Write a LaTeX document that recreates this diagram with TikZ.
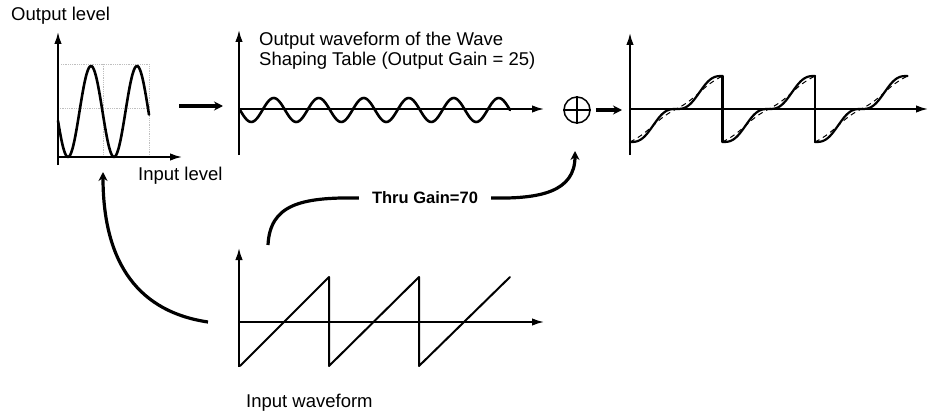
\documentclass[tikz,border=0pt]{standalone}
\usepackage{fontspec}
\setmainfont{Liberation Sans}
\usetikzlibrary{positioning,arrows.meta}

\begin{document}
\begin{tikzpicture}[
  x=1pt, y=-1pt,
  every node/.style={font=\fontsize{18.5}{20}\selectfont, inner sep=0pt},
  axis/.style={line width=1.7pt, -{Latex[length=12pt,width=7.5pt]}},
  wave/.style={line width=2.6pt, line join=round, line cap=round},
  ghost/.style={line width=1pt, dash pattern=on 5pt off 4pt},
  guide/.style={gray!50, densely dotted, line width=0.8pt},
  flow/.style={line width=3.2pt, -{Stealth[length=9pt,width=9pt]}},
  lbl/.style={anchor=base west},
  gain/.style={font=\fontsize{16.5}{18}\selectfont\bfseries, inner xsep=13pt}
]
\useasboundingbox (0,0) rectangle (930,412);

% wave shaping table
\draw[guide] (61,64) -- (149,64) -- (149,157);
\draw[guide] (58,108) -- (149,108);
\draw[guide] (103,64) -- (103,157);
\draw[axis] (58,165) -- (58,32);
\draw[axis] (58,157) -- (182,157);
\draw[wave] plot[domain=58:149, samples=90] (\x, {111.5-45.5*cos(7.8261*(\x-91))});
\node[lbl] (outlvl) at (11,21) {Output level};
\node[lbl] (inlvl) at (138,180) {Input level};

% shaped output
\draw[axis] (239,155) -- (239,30);
\draw[axis] (239,109) -- (544,109);
\draw[wave] plot[domain=240:510, samples=160] (\x, {110+12*sin(8*(\x-240))});
\node[anchor=north west, align=left] (shptitle) at (259,32)
  {Output waveform of the Wave\\Shaping Table (Output Gain = 25)};

% mixer
\node[draw, circle, line width=1.5pt, minimum size=26pt] (sum) at (577,110) {};
\draw[line width=1.5pt] (sum.north) -- (sum.south) (sum.west) -- (sum.east);

% mixed output
\draw[axis] (630,155) -- (630,33);
\draw[axis] (630,109) -- (928,109);
\foreach \c in {0,1,2}
  \draw[ghost] plot[domain=-1:1, samples=50]
    ({676.25+92.5*\c+46.25*\x}, {109-33*(\x-0.25*sin(360*\x)/6.2832)});
\foreach \c in {0,1,2}
  \draw[wave, line width=2.2pt] plot[domain=-1:1, samples=70]
    ({676.25+92.5*\c+46.25*\x}, {109-33*(\x-sin(360*\x)/6.2832)});
\foreach \c in {1,2}
  \draw[wave, line width=2.2pt] ({630+92.5*\c},76) -- ({630+92.5*\c},142);

% input waveform
\draw[axis] (239,367) -- (239,248);
\draw[axis] (239,322) -- (544,322);
\draw[wave, line width=2pt] (240,366) -- (329,277) -- (329,366)
  -- (419,277) -- (419,366) -- (510,277);
\node[lbl] (inwave) at (246,407) {Input waveform};

% signal flow
\coordinate (tblout) at (179,106);
\coordinate (shpin)  at (223,106);
\coordinate (mixin)  at (622,110);
\coordinate (sawout) at (208,322);
\coordinate (tblin)  at (103,172);
\coordinate (thruout) at (268,245);
\coordinate (sumin)  at (575,151);
\node[gain] (thru) at (425,198) {Thru Gain=70};
\draw[flow] (tblout) -- (shpin);
\draw[flow, shorten <=5pt] (sum) -- (mixin);
\draw[flow] (sawout) .. controls (140,312) and (103,265) .. (tblin);
\draw[line width=3.2pt] (thruout) .. controls (270,205) and (300,197) .. (thru.west);
\draw[flow] (thru.east) .. controls (540,199) and (575,192) .. (sumin);
\end{tikzpicture}
\end{document}
